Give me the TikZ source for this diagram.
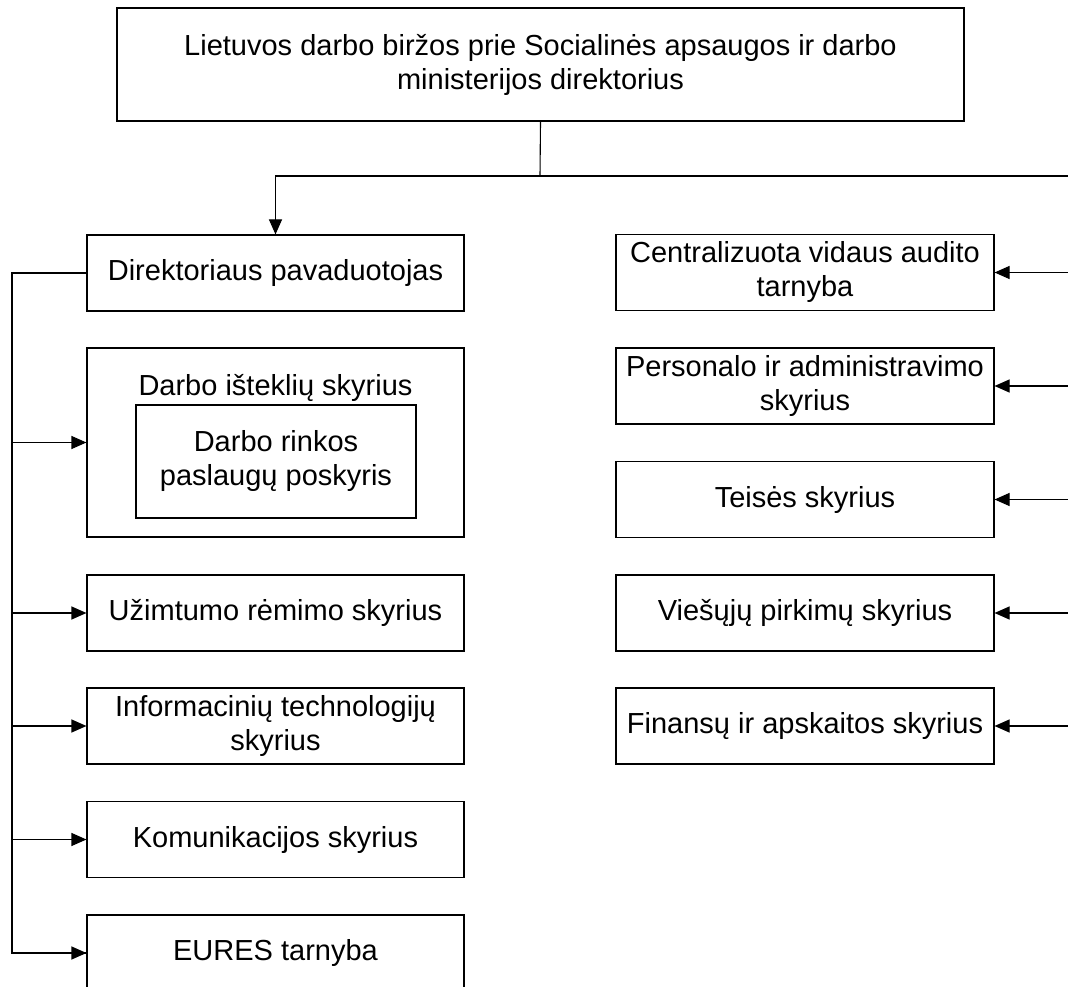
\documentclass[tikz,border=0pt]{standalone}
\usepackage{fontspec}
\setmainfont{Liberation Sans}
\usetikzlibrary{arrows.meta}
\begin{document}
\begin{tikzpicture}[x=1pt,y=-1pt,
  box/.style={draw=black,line width=1.1pt,fill=white,align=center,inner sep=0pt,
    font=\fontsize{29}{34}\selectfont},
  lbl/.style={align=center,inner sep=0pt,font=\fontsize{29}{34}\selectfont},
  conn/.style={draw=black,line width=1.1pt},
  arr/.style={conn,-{Triangle[length=15pt,width=13pt]}}]
\useasboundingbox (0,0) rectangle (1068,987);
\clip (0,0) rectangle (1068,987);
% top
\node[box,minimum width=847pt,minimum height=113pt] (top) at (540.5,64.5)
  {Lietuvos darbo biržos prie Socialinės apsaugos ir darbo\\ministerijos direktorius};
% left column
\node[box,minimum width=377pt,minimum height=76pt] (dir) at (275.5,273) {Direktoriaus pavaduotojas};
\node[box,minimum width=377pt,minimum height=189pt] (darbo) at (275.5,442.5) {};
\node[lbl,anchor=base] (darbot) at (275.5,395) {Darbo išteklių skyrius};
\node[box,minimum width=280pt,minimum height=113pt] (rinkos) at (276,461.5) {Darbo rinkos\\paslaugų poskyris};
\node[box,minimum width=377pt,minimum height=76pt] (uzim) at (275.5,613) {Užimtumo rėmimo skyrius};
\node[box,minimum width=377pt,minimum height=76pt] (info) at (275.5,726) {Informacinių technologijų\\skyrius};
\node[box,minimum width=377pt,minimum height=76pt] (komu) at (275.5,839.5) {Komunikacijos skyrius};
\node[box,minimum width=377pt,minimum height=76pt] (eures) at (275.5,953) {EURES tarnyba};
% right column
\node[box,minimum width=378pt,minimum height=76pt] (cent) at (805,272.5) {Centralizuota vidaus audito\\tarnyba};
\node[box,minimum width=378pt,minimum height=76pt] (pers) at (805,386) {Personalo ir administravimo\\skyrius};
\node[box,minimum width=378pt,minimum height=76pt] (teis) at (805,499.5) {Teisės skyrius};
\node[box,minimum width=378pt,minimum height=76pt] (vies) at (805,613) {Viešųjų pirkimų skyrius};
\node[box,minimum width=378pt,minimum height=76pt] (fin) at (805,726) {Finansų ir apskaitos skyrius};
% junction coordinates
\coordinate (j) at (540,176);
\coordinate (jl) at (275.5,176);
\coordinate (jr) at (1070,176);
\coordinate (lb) at (12,273);
\coordinate (rb) at (1070,726);
% connectors
\draw[conn] (top.south) -- (j);
\draw[arr] (j) -- (jl) -- (dir.north);
\draw[conn] (j) -- (jr) -- (rb);
\draw[conn] (dir.west) -- (lb) |- (eures.west);
\foreach \n in {darbo,uzim,info,komu,eures}
  \draw[arr] (lb |- \n.west) -- (\n.west);
\foreach \n in {cent,pers,teis,vies,fin}
  \draw[arr] (jr |- \n.east) -- (\n.east);
\end{tikzpicture}
\end{document}
